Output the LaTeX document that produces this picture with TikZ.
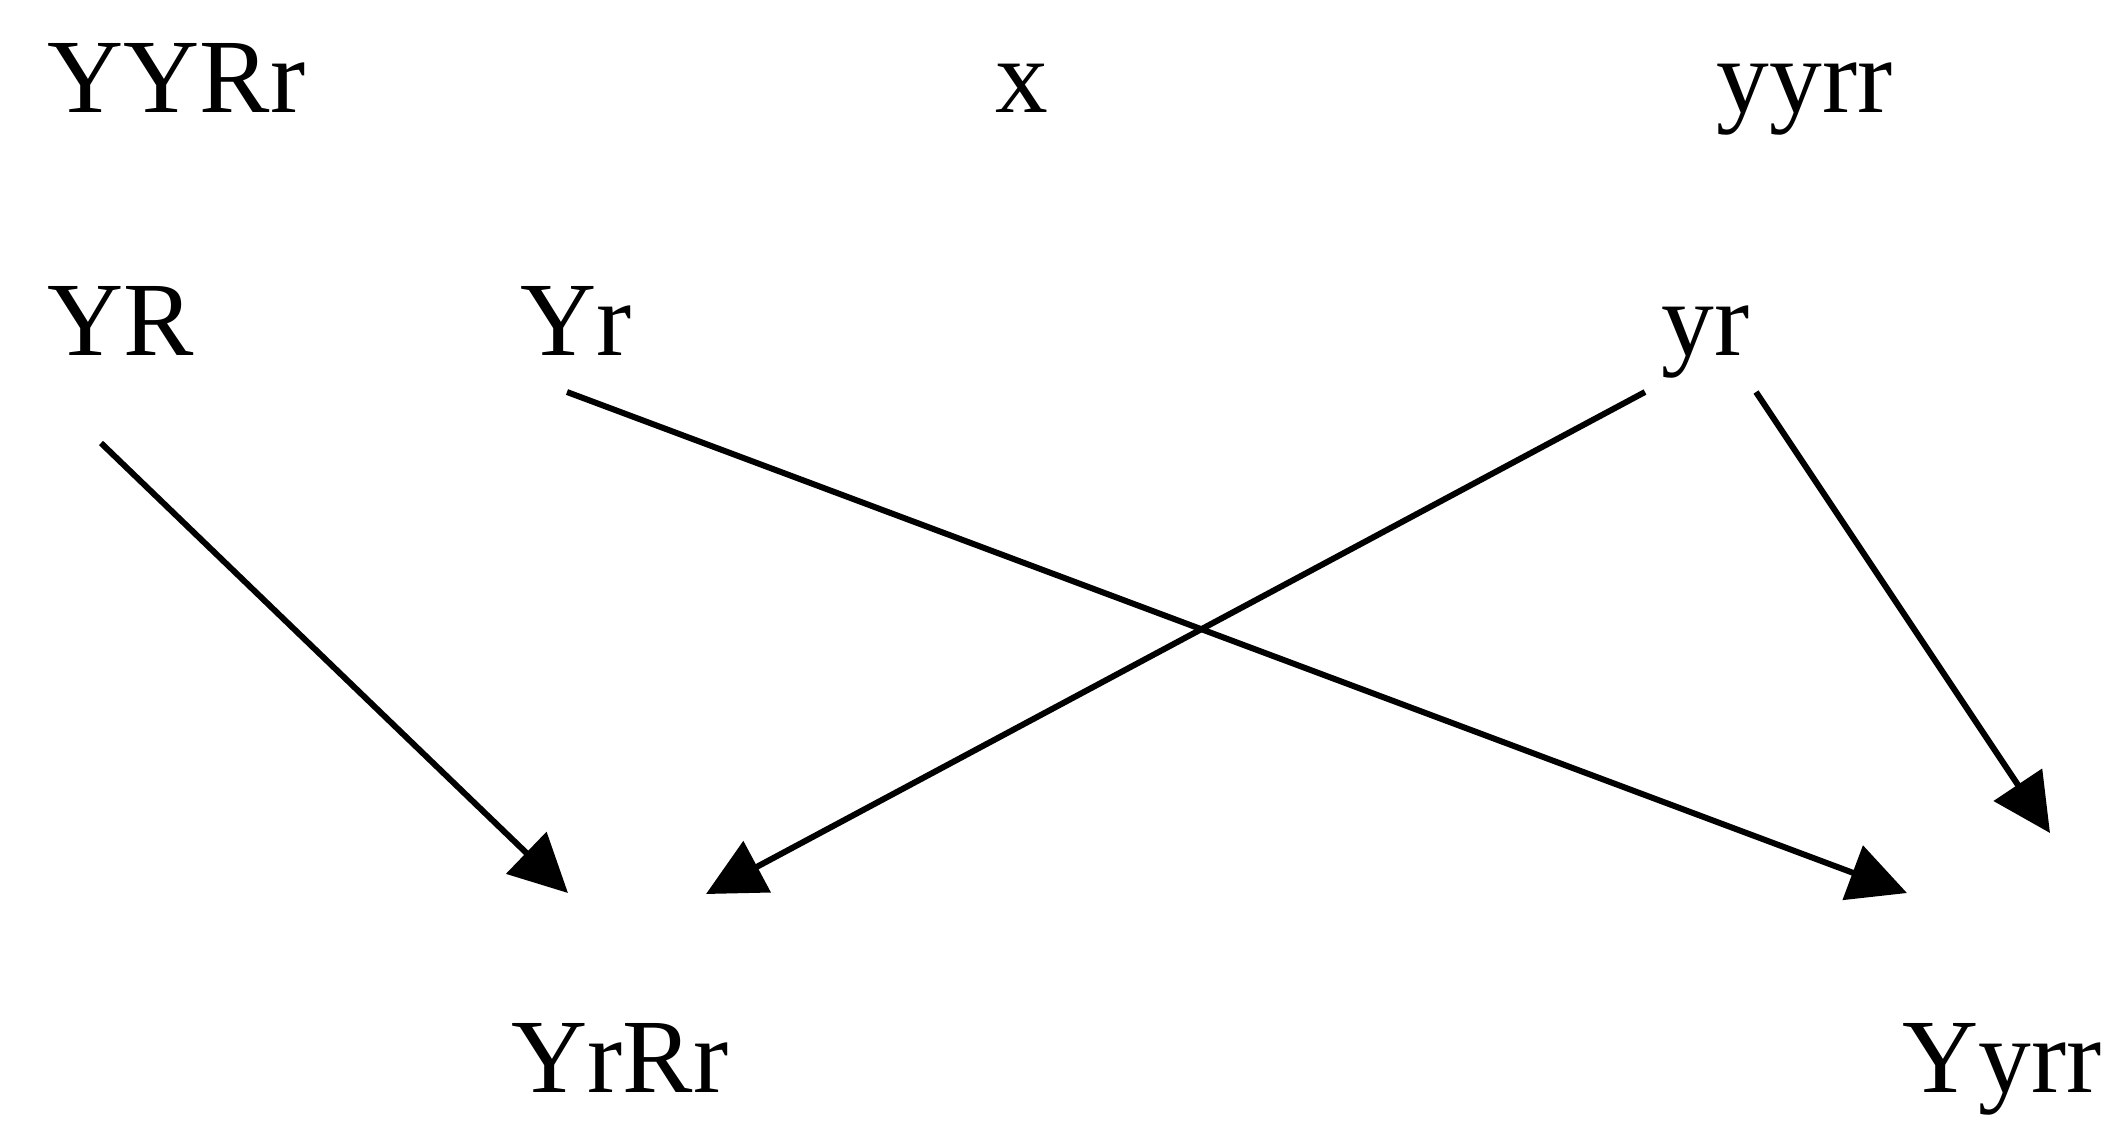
\documentclass[tikz,border=0pt]{standalone}
\usepackage{fontspec}
\setmainfont{Liberation Serif}
\usetikzlibrary{arrows.meta}

\begin{document}
\begin{tikzpicture}[word/.style = {inner sep=0pt, anchor=base west, font=\fontsize{30}{36}\selectfont}, link/.style = {line width=1.7pt, -{Triangle[length=0.58cm, width=0.57cm]}}]
\useasboundingbox (0,0) rectangle (21.18,-11.36);
\node[word](parent1) at (0.47,-1.12) {YYRr}; \node[word, anchor=base](cross) at (10.22,-1.12) {x}; \node[word](parent2) at (17.16,-1.12) {yyrr};
\node[word](gam1) at (0.47,-3.55) {YR}; \node[word](gam2) at (5.20,-3.55) {Yr}; \node[word](gam3) at (16.61,-3.55) {yr};
\node[word](off1) at (5.11,-10.92) {YrRr}; \node[word](off2) at (19.02,-10.92) {Yyrr};
\coordinate(g1out) at (1.01,-4.43); \coordinate(g2out) at (5.67,-3.92); \coordinate(g3outl) at (16.45,-3.92); \coordinate(g3outr) at (17.56,-3.92);
\coordinate(o1inl) at (5.68,-8.93); \coordinate(o1inr) at (7.06,-8.94); \coordinate(o2inl) at (19.07,-8.93); \coordinate(o2inr) at (20.50,-8.33);
\draw[link] (g1out) -- (o1inl); \draw[link] (g2out) -- (o2inl);
\draw[link] (g3outl) -- (o1inr); \draw[link] (g3outr) -- (o2inr);
\end{tikzpicture}
\end{document}
